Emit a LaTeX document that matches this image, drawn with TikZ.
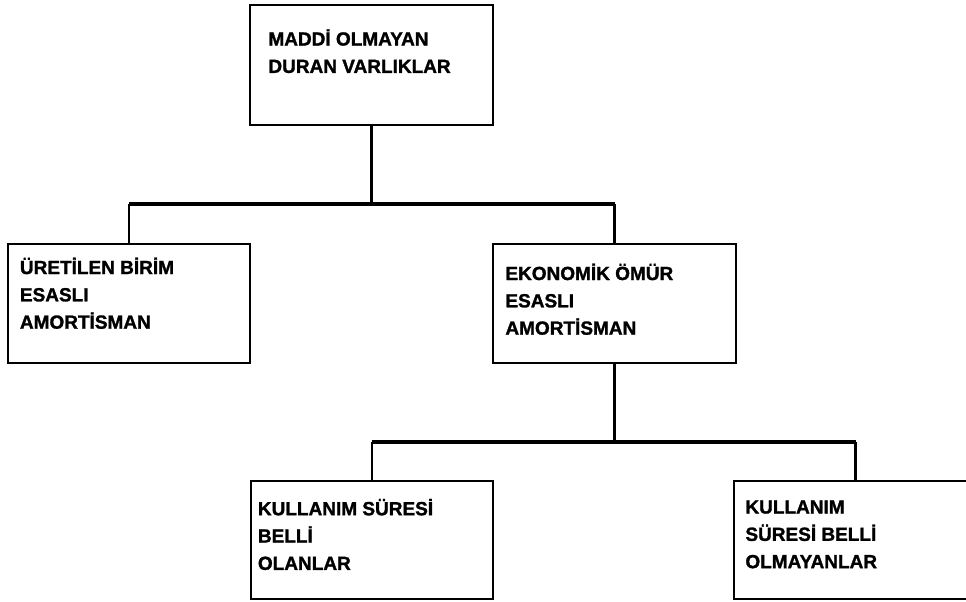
\documentclass[tikz,border=0pt]{standalone}
\usepackage{fontspec}
\setmainfont{Liberation Sans}[BoldFeatures={FakeBold=1.4}]
\newcommand{\ilksatir}{\rule{0pt}{14pt}}
\begin{document}
\begin{tikzpicture}[x=0.75pt, y=-0.75pt,
    kutu/.style={draw, line width=1.6pt, rectangle, inner sep=0pt, outer sep=0pt,
                 minimum width=182pt, minimum height=89pt},
    yazi/.style={anchor=north west, inner sep=0pt, align=left,
                 font=\fontsize{14.25pt}{20.5pt}\selectfont\bfseries},
    hat/.style={line width=1.6pt},
    ana/.style={line width=2.6pt}]
    \useasboundingbox (0,0) rectangle (966,601);
    \clip (0,0) rectangle (966,601);

    % kutular
    \node[kutu, minimum height=90pt] (ust) at (371.5,65) {};
    \node[kutu] (sol) at (129,303.5) {};
    \node[kutu] (orta) at (614.5,303.5) {};
    \node[kutu] (altsol) at (372,540) {};
    \node[kutu] (altsag) at (855.5,540) {};

    % yazilar
    \node[yazi] (ust-y) at ([shift={(18,21.6)}]ust.north west)
        {\ilksatir MADDİ OLMAYAN\\DURAN VARLIKLAR};
    \node[yazi] (sol-y) at ([shift={(12,10.9)}]sol.north west)
        {\ilksatir ÜRETİLEN BİRİM\\ESASLI\\AMORTİSMAN};
    \node[yazi] (orta-y) at ([shift={(12,16.9)}]orta.north west)
        {\ilksatir EKONOMİK ÖMÜR\\ESASLI\\AMORTİSMAN};
    \node[yazi] (altsol-y) at ([shift={(7,15.6)}]altsol.north west)
        {\ilksatir KULLANIM SÜRESİ\\BELLİ\\OLANLAR};
    \node[yazi] (altsag-y) at ([shift={(11,13.9)}]altsag.north west)
        {\ilksatir KULLANIM\\SÜRESİ BELLİ\\OLMAYANLAR};

    % baglantilar
    \coordinate (bus1) at (0,204);
    \coordinate (bus2) at (0,442);
    \draw[hat] (ust.south) -- (ust.south |- bus1);
    \draw[hat] (sol.north) -- (sol.north |- bus1);
    \draw[hat] (orta.north) -- (orta.north |- bus1);
    \draw[ana] (sol.north |- bus1) -- (orta.north |- bus1);

    \draw[hat] (orta.south) -- (orta.south |- bus2);
    \draw[hat] (altsol.north) -- (altsol.north |- bus2);
    \draw[hat] (altsag.north) -- (altsag.north |- bus2);
    \draw[ana] (altsol.north |- bus2) -- (altsag.north |- bus2);
\end{tikzpicture}
\end{document}
